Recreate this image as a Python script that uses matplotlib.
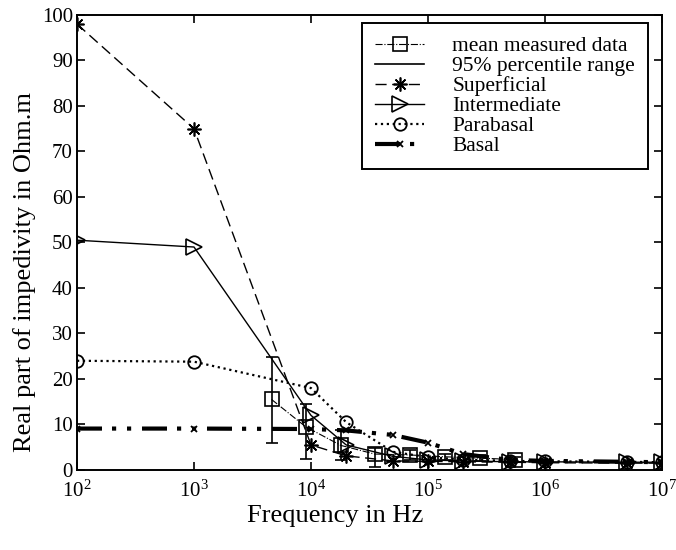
import numpy as np
import matplotlib
matplotlib.use('Agg')
import matplotlib.pyplot as plt
from matplotlib.lines import Line2D

plt.rcParams['font.family'] = ['Liberation Serif', 'DejaVu Serif']
plt.rcParams['mathtext.fontset'] = 'stix'

# frequencies (Hz)
freq = [1e2, 1e3, 1e4, 2e4, 5e4, 1e5, 2e5, 5e5, 1e6, 5e6, 1e7]

superficial = [98, 75, 5.5, 3.1, 2.0, 1.9, 1.8, 1.7, 1.6, 1.5, 1.5]
intermediate = [50.5, 49, 12, 5.5, 3.0, 2.2, 2.0, 1.8, 1.8, 1.7, 1.7]
parabasal = [24, 23.8, 18, 10.5, 4.0, 2.8, 2.3, 2.0, 1.9, 1.8, 1.7]
basal = [9.1, 9.1, 9.0, 8.7, 7.7, 6.0, 3.5, 2.2, 2.0, 1.8, 1.7]

# mean measured data with 95% percentile range
meas_freq = [4.6e3, 9e3, 1.8e4, 3.5e4, 7e4, 1.4e5, 2.8e5, 5.5e5]
meas_mean = [15.5, 9.5, 5.4, 3.5, 3.3, 2.9, 2.6, 2.3]
meas_low = [6.0, 2.4, 2.2, 0.7, 2.3, 2.2, 2.0, 1.8]
meas_high = [24.8, 14.6, 8.8, 4.9, 4.3, 3.6, 3.2, 2.8]

fig = plt.figure(figsize=(6.76, 5.5), dpi=100)
ax = fig.add_axes([0.1139, 0.1455, 0.8654, 0.8273])

m = np.array(meas_mean)
yerr = [m - np.array(meas_low), np.array(meas_high) - m]
ax.errorbar(meas_freq, meas_mean, yerr=yerr, fmt='none', ecolor='k',
            elinewidth=1.2, capsize=4, capthick=1.2)
ax.plot(meas_freq, meas_mean, linestyle='-.', color='k', lw=0.8,
        marker='s', ms=10, mfc='none', mec='k', mew=1.2, label='mean measured data')
ax.plot(freq, superficial, linestyle=(0, (8, 4)), color='k', lw=1,
        marker=(8, 2, 0), ms=10, mew=1.2, label='Superficial')
ax.plot(freq, intermediate, linestyle='-', color='k', lw=1,
        marker='>', ms=11, mfc='none', mec='k', mew=1.2, label='Intermediate')
ax.plot(freq, parabasal, linestyle=':', color='k', lw=1.6,
        marker='o', ms=9, mfc='none', mec='k', mew=1.3, label='Parabasal')
ax.plot(freq, basal, linestyle=(0, (6, 2.4, 1, 2.6, 1, 2.6)), color='k', lw=3,
        marker='x', ms=5, mew=1.3, label='Basal')

ax.set_xscale('log')
ax.set_xlim(1e2, 1e7)
ax.set_ylim(0, 100)
ax.set_yticks(np.arange(0, 101, 10))
ax.set_xticks([1e2, 1e3, 1e4, 1e5, 1e6, 1e7])
ax.minorticks_off()
ax.tick_params(direction='in', top=True, right=True, length=6, width=1.2,
               labelsize=15)
ax.tick_params(axis='x', pad=8)
ax.tick_params(axis='y', pad=3)
for s in ax.spines.values():
    s.set_linewidth(1.4)

ax.set_xlabel('Frequency in Hz', fontsize=19, labelpad=2)
ax.set_ylabel('Real part of impedivity in Ohm.m', fontsize=19, labelpad=4)
ax.xaxis.label.set_x(0.441)
ax.yaxis.label.set_y(0.435)

h, l = ax.get_legend_handles_labels()
rng = Line2D([], [], color='k', lw=1.2)
handles = [h[0], rng] + h[1:]
labels = [l[0], '95% percentile range'] + l[1:]
leg = ax.legend(handles, labels, loc='upper right', bbox_to_anchor=(0.976, 0.982),
                borderaxespad=0, fontsize=15.5, fancybox=False, edgecolor='k',
                framealpha=1, handlelength=2.3, labelspacing=0.0, borderpad=0.6,
                handletextpad=1.3)
leg.get_frame().set_linewidth(1.4)

fig.savefig('out.png', dpi=100)
